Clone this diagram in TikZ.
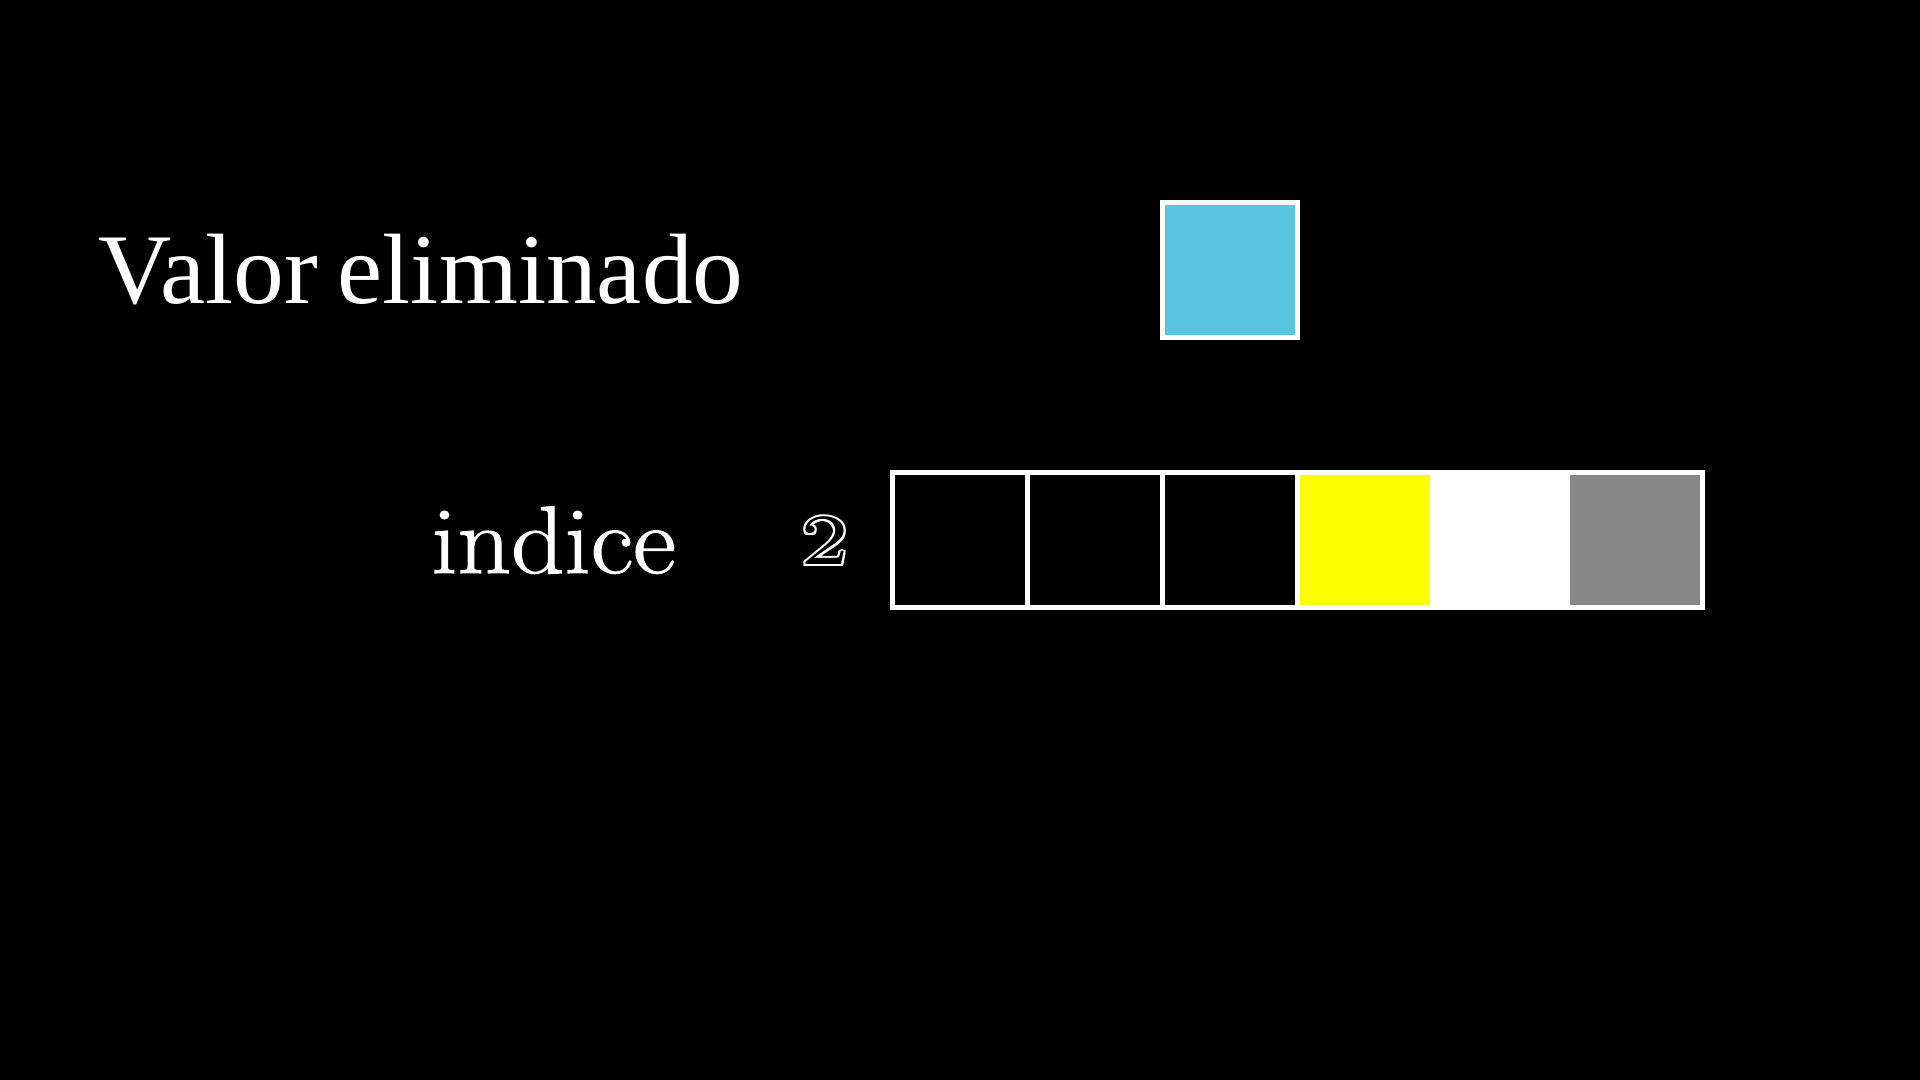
\documentclass[tikz,border=0pt]{standalone}
\usepackage{fontspec}
\newfontfamily\timesf{Liberation Serif}
\newfontfamily\lmheavy[FakeBold=1.2]{Latin Modern Roman}
\newfontfamily\lmseven{lmroman7-regular.otf}
\newcommand{\outlinedtext}[1]{%
  \rlap{\textcolor{white}{\kern-1pt#1}}%
  \rlap{\textcolor{white}{\kern1pt#1}}%
  \rlap{\textcolor{white}{\raisebox{1pt}{#1}}}%
  \rlap{\textcolor{white}{\raisebox{-1pt}{#1}}}%
  \rlap{\textcolor{white}{\kern-.7pt\raisebox{.7pt}{#1}}}%
  \rlap{\textcolor{white}{\kern.7pt\raisebox{.7pt}{#1}}}%
  \rlap{\textcolor{white}{\kern-.7pt\raisebox{-.7pt}{#1}}}%
  \rlap{\textcolor{white}{\kern.7pt\raisebox{-.7pt}{#1}}}%
  \textcolor{black}{#1}}
\definecolor{manimblue}{HTML}{58C4DD}
\definecolor{manimgray}{HTML}{888888}
\definecolor{pureyellow}{HTML}{FFFF00}
\begin{document}
\begin{tikzpicture}[x=0.5pt,y=-0.5pt,
  cell/.style={draw=white,line width=2.5pt,minimum size=67.5pt,inner sep=0pt,outer sep=0pt},
  label/.style={text=white,inner sep=0pt,anchor=base west}]
\fill[black] (0,0) rectangle (1920,1080);
\useasboundingbox (0,0) rectangle (1920,1080);
\node[label,xscale=1.015,font=\timesf\fontsize{50pt}{60pt}\selectfont] (title) at (98,304) {\spaceskip=0.19em Valor eliminado};
\node[cell,fill=manimblue] (removed) at (1230,270) {};
\node[label,xscale=1.09,font=\lmheavy\fontsize{48pt}{58pt}\selectfont] (idx) at (431,573) {indice};
\node[inner sep=0pt,xscale=1.2,font=\lmseven\fontsize{36pt}{44pt}\selectfont] (num) at (825,541) {\outlinedtext{2}};
\node[cell,fill=black] (c0) at (960,540) {};
\node[cell,fill=black] (c1) at (1095,540) {};
\node[cell,fill=black] (c2) at (1230,540) {};
\node[cell,fill=pureyellow] (c3) at (1365,540) {};
\node[cell,fill=white] (c4) at (1500,540) {};
\node[cell,fill=manimgray] (c5) at (1635,540) {};
\end{tikzpicture}
\end{document}
